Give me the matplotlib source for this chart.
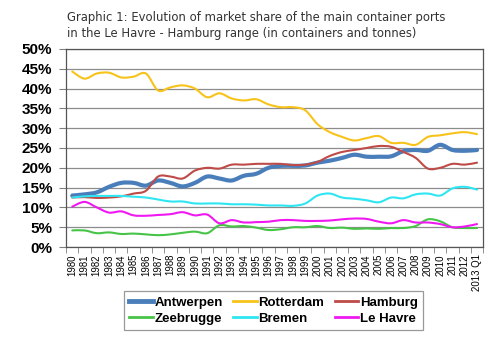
import matplotlib
matplotlib.use('Agg')
import matplotlib.pyplot as plt
import numpy as np
from matplotlib.path import Path
from matplotlib.patches import PathPatch
from matplotlib.lines import Line2D

years = [str(y) for y in range(1980, 2013)] + ['2013 Q1']

antwerpen = [13.0, 13.3, 13.8, 15.2, 16.2, 16.2, 15.5, 16.8, 16.2, 15.3, 16.2, 17.8,
             17.3, 16.8, 18.0, 18.5, 20.0, 20.5, 20.5, 20.6, 21.3, 21.8, 22.5, 23.3,
             22.8, 22.8, 22.9, 24.2, 24.5, 24.3, 25.8, 24.5, 24.3, 24.5]
rotterdam = [44.3, 42.5, 43.8, 44.0, 42.8, 43.0, 43.8, 39.5, 40.3, 40.8, 40.0, 37.8,
             38.8, 37.5, 37.0, 37.3, 36.0, 35.3, 35.3, 34.5, 31.0, 29.0, 27.8, 26.9,
             27.5, 28.0, 26.3, 26.3, 25.8, 27.8, 28.2, 28.7, 29.0, 28.5]
hamburg = [12.5, 12.6, 12.4, 12.5, 12.8, 13.5, 14.2, 17.8, 17.8, 17.3, 19.3, 20.0,
           19.8, 20.8, 20.8, 21.0, 21.0, 21.0, 20.7, 20.8, 21.5, 23.0, 24.0, 24.5,
           25.0, 25.5, 25.3, 24.0, 22.5, 19.8, 20.0, 21.0, 20.8, 21.3]
zeebrugge = [4.2, 4.2, 3.5, 3.7, 3.3, 3.4, 3.2, 3.0, 3.2, 3.6, 3.9, 3.5,
             5.5, 5.2, 5.3, 4.9, 4.3, 4.5, 5.0, 5.0, 5.3, 4.8, 4.9, 4.6,
             4.7, 4.6, 4.8, 4.8, 5.3, 7.0, 6.5, 5.0, 4.8, 4.8]
bremen = [12.5, 12.8, 12.9, 12.9, 12.9, 12.7, 12.5, 12.0, 11.5, 11.5, 11.0, 11.0,
          11.0, 10.8, 10.8, 10.7, 10.5, 10.5, 10.4, 11.0, 13.0, 13.5, 12.5, 12.2,
          11.8, 11.3, 12.5, 12.3, 13.3, 13.5, 13.0, 14.8, 15.2, 14.5]
le_havre = [10.2, 11.4, 10.0, 8.7, 9.0, 8.0, 7.9, 8.1, 8.3, 8.8, 8.0, 8.2,
            6.0, 6.8, 6.2, 6.3, 6.4, 6.8, 6.8, 6.6, 6.6, 6.7, 7.0, 7.2,
            7.1, 6.4, 6.0, 6.8, 6.2, 6.2, 5.8, 5.0, 5.2, 5.8]

series = {
    'Antwerpen': (antwerpen, '#4a7ebb', 3.0),
    'Rotterdam': (rotterdam, '#f7c31a', 1.5),
    'Hamburg': (hamburg, '#be4b48', 1.5),
    'Zeebrugge': (zeebrugge, '#47c447', 1.5),
    'Bremen': (bremen, '#2ee6f2', 1.5),
    'Le Havre': (le_havre, '#f018f0', 1.5),
}
# legend reads row by row, matplotlib fills columns first
legend_order = ['Antwerpen', 'Zeebrugge', 'Rotterdam', 'Bremen', 'Hamburg', 'Le Havre']


def smooth_path(x, y):
    # cubic bezier segments through every point (Catmull-Rom style)
    pts = np.column_stack([x, y])
    n = len(pts)
    verts = [pts[0]]
    codes = [Path.MOVETO]
    for i in range(n - 1):
        p0 = pts[max(i - 1, 0)]
        p1 = pts[i]
        p2 = pts[i + 1]
        p3 = pts[min(i + 2, n - 1)]
        c1 = p1 + (p2 - p0) / 6.0
        c2 = p2 - (p3 - p1) / 6.0
        verts += [c1, c2, p2]
        codes += [Path.CURVE4] * 3
    return Path(verts, codes)


fig = plt.figure(figsize=(4.9, 3.47), dpi=100)
ax = fig.add_axes([0.135, 0.288, 0.851, 0.571])

x = np.arange(len(years))
handles = {}
for name, (vals, color, lw) in series.items():
    patch = PathPatch(smooth_path(x, vals), fill=False, edgecolor=color, lw=lw,
                      capstyle='round', joinstyle='round', zorder=3)
    ax.add_patch(patch)
    handles[name] = Line2D([], [], color=color, lw=lw + 0.5)

ax.set_xlim(-0.5, len(years) - 0.5)
ax.set_ylim(0, 50)

ax.set_yticks(np.arange(0, 51, 5))
ax.set_yticklabels([f'{v}%' for v in range(0, 51, 5)],
                   fontfamily='Liberation Sans', fontweight='bold', fontsize=11)
ax.yaxis.grid(True, color='#8c8c8c', lw=0.9)
ax.set_axisbelow(True)
ax.tick_params(axis='y', length=5, color='#808080', pad=5)

ax.set_xticks(x)
ax.set_xticklabels(years, rotation=90, fontfamily='Liberation Sans', fontsize=6.9)
ax.set_xticks(np.arange(-0.5, len(years)), minor=True)
ax.tick_params(axis='x', which='major', length=0, pad=5)
ax.tick_params(axis='x', which='minor', length=4, color='#808080')

for s in ax.spines.values():
    s.set_color('#555555')
    s.set_linewidth(0.9)

fig.text(0.137, 0.968, 'Graphic 1: Evolution of market share of the main container ports\n'
         'in the Le Havre - Hamburg range (in containers and tonnes)',
         fontfamily='DejaVu Sans', fontsize=8.4, color='#333333', va='top',
         linespacing=1.25)

leg = fig.legend([handles[k] for k in legend_order], legend_order, loc='center',
                 bbox_to_anchor=(0.558, 0.105), ncol=3, frameon=True, fancybox=False,
                 prop={'family': 'Liberation Sans', 'weight': 'bold', 'size': 9.5},
                 handlelength=1.8, handletextpad=0.1, columnspacing=0.8,
                 labelspacing=0.3, borderpad=0.4)
leg.get_frame().set_edgecolor('#808080')
leg.get_frame().set_linewidth(0.9)

fig.savefig('out.png', dpi=100)
